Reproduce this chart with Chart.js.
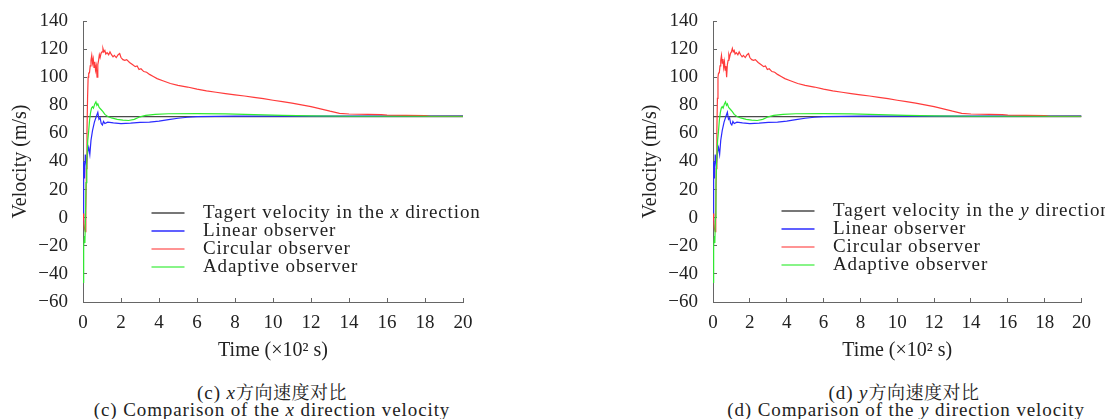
<!DOCTYPE html>
<html><head><meta charset="utf-8">
<script src="https://cdn.jsdelivr.net/npm/chart.js@4.4.0/dist/chart.umd.min.js"></script>
<style>
body{margin:0;background:#fff;width:1105px;height:419px;overflow:hidden;position:relative;font-family:"Liberation Serif",serif;}
canvas{position:absolute;top:0}
#c1{left:0}
#c2{left:630px}
.cap{position:absolute;font-size:19px;color:#222;white-space:nowrap;letter-spacing:0.9px;transform:translateX(-50%);line-height:20px}
.zh{font-family:"Noto Serif CJK SC","Noto Sans CJK SC",sans-serif;letter-spacing:0.5px;font-size:18px}
</style></head><body>
<canvas id="c1" width="552" height="370"></canvas>
<canvas id="c2" width="475" height="370"></canvas>
<div class="cap" style="left:272px;top:381px">(c) <i>x</i><span class="zh">方向速度对比</span></div>
<div class="cap" style="left:272px;top:400px">(c) Comparison of the <i>x</i> direction velocity</div>
<div class="cap" style="left:904px;top:381px">(d) <i>y</i><span class="zh">方向速度对比</span></div>
<div class="cap" style="left:906px;top:400px">(d) Comparison of the <i>y</i> direction velocity</div>
<script>
// ---- data (time in ×10² s, velocity in m/s) ----
const xTickValues = [0,2,4,6,8,10,12,14,16,18,20];
const yTickValues = [-60,-40,-20,0,20,40,60,80,100,120,140];

const timeTarget = [0, 20];
const target = [72, 72];

const timeLinear = [0,0.02,0.05,0.08,0.12,0.18,0.25,0.3,0.36,0.42,0.5,0.6,0.7,0.78,0.84,0.9,0.96,1.02,1.08,1.15,1.3,1.6,2.0,2.5,3.0,3.5,4.0,4.5,5.0,5.5,6.0,8.0,12.0,20.0];
const linear = [-3,30,40,28,45,38,47,50,45,55,62,68,72,75,70,71,67,66,68.5,67,68,67.5,67,67.3,67.8,68,68.8,69.8,70.8,71.5,72,72.3,72.3,72.5];

const timeCircular = [0,0.04,0.08,0.12,0.15,0.18,0.21,0.24,0.27,0.3,0.34,0.38,0.42,0.46,0.5,0.54,0.58,0.62,0.66,0.7,0.74,0.78,0.82,0.86,0.9,0.95,1.0,1.05,1.1,1.15,1.2,1.27,1.35,1.42,1.5,1.58,1.65,1.75,1.85,1.93,2.0,2.1,2.2,2.3,2.45,2.6,2.75,2.85,2.95,3.05,3.2,3.35,3.5,3.7,3.9,4.2,4.6,5.0,5.5,6.0,6.5,7.0,7.5,8.0,8.5,9.0,9.5,10.0,10.5,11.0,11.5,12.0,12.5,13.0,13.5,14.0,15.0,15.7,16.0,17.0,18.0,18.3,20.0];
const circular = [3,-2,-8,-10,5,35,62,85,100,103,103,108,112,115.5,110,113,107,111,105,108,100,109,112,116,114,117,118,120.5,118,119,116.5,117.5,116,118,116,114.5,115.5,114,116,116.8,114,112.5,112,112.5,110.5,109,107.5,108,105.5,106,104,103.5,102,100.5,99,97.5,95.5,94.2,93,91.5,90.3,89.3,88.3,87.4,86.6,85.7,84.7,83.6,82.6,81.6,80.3,79,77.5,75.8,74.3,73.8,73.6,73.4,73,72.8,72.6,72.2,72.2];

const timeAdaptive = [0,0.02,0.05,0.08,0.1,0.13,0.16,0.2,0.25,0.3,0.35,0.4,0.45,0.5,0.55,0.62,0.68,0.73,0.78,0.85,0.95,1.05,1.15,1.3,1.5,1.8,2.1,2.4,2.7,3.0,3.3,3.8,4.5,6.0,7.5,9.0,10.5,12.0,14.0,20.0];
const adaptive = [-46,-30,-20,-13,-18,0,25,40,55,62,70,75,78,79,78,81,82.5,80,81,78.5,77,75.5,73.5,72,71,70,69.5,69.2,70,71.8,72.8,73.5,74,74.1,73.9,73.4,72.9,72.5,72.2,72.2];

const seriesLabels = ['Tagert velocity in the {v} direction','Linear observer','Circular observer','Adaptive observer'];
const seriesColors = ['#4a4a4a','#2b2bff','#ff3b3b','#30ec30'];

function pts(t, v){ return t.map((x,i)=>({x:x, y:v[i]})); }
const fmt = v => String(v).replace('-', '\u2212');

const texLegend = {
  id:'texLegend',
  afterDatasetsDraw(chart, args, opts){
    const ctx = chart.ctx, ca = chart.chartArea;
    ctx.save();
    ctx.letterSpacing = '0.9px';
    ctx.textBaseline = 'middle';
    chart.data.datasets.forEach((ds, i) => {
      const y = ca.top + opts.dy + i*18;
      const x0 = ca.left + opts.dx;
      ctx.strokeStyle = ds.legendColor || ds.borderColor;
      ctx.lineWidth = 1.4;
      ctx.beginPath(); ctx.moveTo(x0, y); ctx.lineTo(x0+33, y); ctx.stroke();
      ctx.fillStyle = '#222';
      let x = x0 + 51.5;
      const parts = ds.label.split(/(\{v\})/);
      parts.forEach(p => {
        if (p === '{v}') {
          ctx.font = 'italic 19px "Liberation Serif"';
          p = opts.v;
        } else ctx.font = '19px "Liberation Serif"';
        ctx.fillText(p, x, y);
        x += ctx.measureText(p).width;
      });
    });
    ctx.restore();
  }
};

function makeChart(id, v, rightPad, legendDy){
  const datasets = [
    {label:seriesLabels[0], data:pts(timeTarget,target), borderColor:seriesColors[0], order:4},
    {label:seriesLabels[1], data:pts(timeLinear,linear), borderColor:seriesColors[1], order:3},
    {label:seriesLabels[2], data:pts(timeCircular,circular), borderColor:seriesColors[2], legendColor:'#ff7070', order:2},
    {label:seriesLabels[3], data:pts(timeAdaptive,adaptive), borderColor:seriesColors[3], legendColor:'#60f060', order:1}
  ].map(d => Object.assign(d, {borderWidth:1.2, pointRadius:0, tension:0, fill:false}));
  return new Chart(document.getElementById(id), {
    type:'line',
    data:{datasets},
    plugins:[texLegend],
    options:{
      responsive:false, animation:false, devicePixelRatio:1,
      layout:{autoPadding:false, padding:{left:0, top:21, right:rightPad, bottom:0}},
      plugins:{legend:{display:false}, tooltip:{enabled:false}, texLegend:{dx:68.5, dy:legendDy, v:v}},
      scales:{
        x:{type:'linear', min:0, max:20,
          afterBuildTicks: s => { s.ticks = xTickValues.map(t=>({value:t})); },
          afterFit: s => { s.height = 68; },
          border:{color:'#666', width:1},
          grid:{drawOnChartArea:false, drawTicks:true, tickLength:-4, color:'#666'},
          ticks:{autoSkip:false, maxRotation:0, padding:14, color:'#222', font:{family:'"Liberation Serif"', size:19}, callback: fmt},
          title:{display:true, text:'Time (\u00d710\u00b2 s)', color:'#222', font:{family:'"Liberation Serif"', size:20}, padding:{top:0,bottom:7}}
        },
        y:{type:'linear', min:-60, max:140,
          afterBuildTicks: s => { s.ticks = yTickValues.map(t=>({value:t})); },
          afterFit: s => { s.width = 83; },
          border:{color:'#666', width:1},
          grid:{drawOnChartArea:false, drawTicks:true, tickLength:-4, color:'#666'},
          ticks:{autoSkip:false, padding:19, color:'#222', font:{family:'"Liberation Serif"', size:19, lineHeight:0.1}, callback: fmt},
          title:{display:true, text:'Velocity (m/s)', color:'#222', font:{family:'"Liberation Serif"', size:20}, padding:{top:9,bottom:0}}
        }
      }
    }
  });
}
makeChart('c1', 'x', 89, 192);
makeChart('c2', 'y', 13, 190);
</script>
</body></html>
